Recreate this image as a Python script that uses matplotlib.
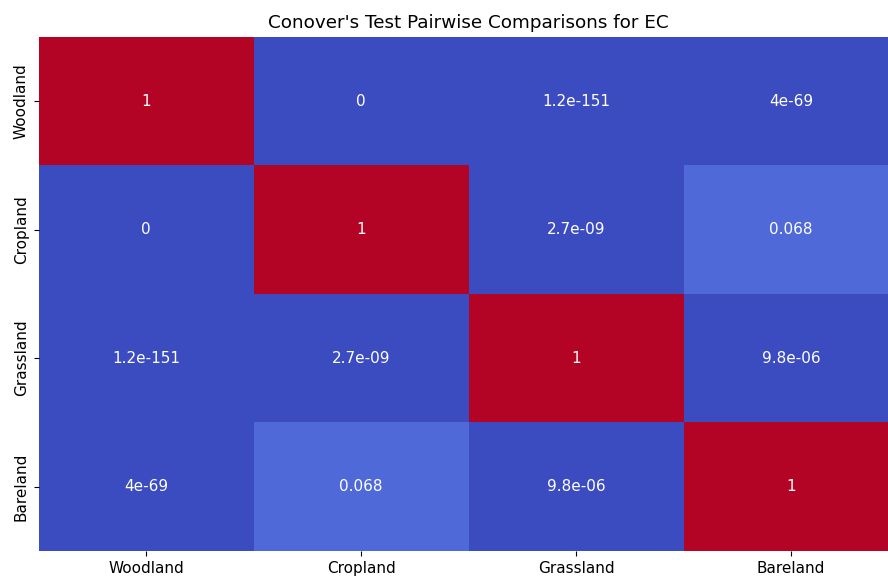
import matplotlib
matplotlib.use("Agg")
import matplotlib.pyplot as plt
import numpy as np
import pandas as pd
import seaborn as sns

# 土地利用区分
groups = ["Woodland", "Cropland", "Grassland", "Bareland"]

# Conover検定のp値 (行ごと)
row_woodland = [1, 0, 1.2e-151, 4e-69]
row_cropland = [0, 1, 2.7e-09, 0.068]
row_grassland = [1.2e-151, 2.7e-09, 1, 9.8e-06]
row_bareland = [4e-69, 0.068, 9.8e-06, 1]

pvals = pd.DataFrame(
    [row_woodland, row_cropland, row_grassland, row_bareland],
    index=groups, columns=groups,
)

fig = plt.figure(figsize=(8.88, 5.79), dpi=100)
# 右端は画像からはみ出す (元画像がトリミングされている)
ax = fig.add_axes([0.0435, 0.0484, 0.9685, 0.888])

sns.heatmap(pvals, annot=True, cmap="coolwarm", cbar=False, ax=ax,
            annot_kws={"fontsize": 11})

ax.set_title("Conover's Test Pairwise Comparisons for EC", fontsize=13.2)
ax.tick_params(labelsize=11)

fig.savefig("out.png", dpi=100)
